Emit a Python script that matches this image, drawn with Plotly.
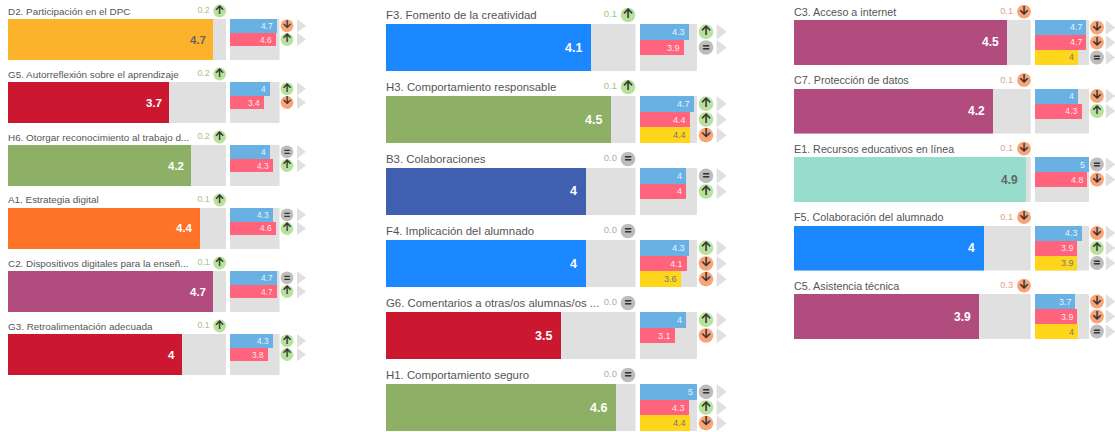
import plotly.graph_objects as go

W, H = 1115, 432

# ---------- data ----------
titles = [
    "D2. Participación en el DPC", "G5. Autorreflexión sobre el aprendizaje",
    "H6. Otorgar reconocimiento al trabajo d...", "A1. Estrategia digital",
    "C2. Dispositivos digitales para la enseñ...", "G3. Retroalimentación adecuada",
    "F3. Fomento de la creatividad", "H3. Comportamiento responsable",
    "B3. Colaboraciones", "F4. Implicación del alumnado",
    "G6. Comentarios a otras/os alumnas/os ...", "H1. Comportamiento seguro",
    "C3. Acceso a internet", "C7. Protección de datos",
    "E1. Recursos educativos en línea", "F5. Colaboración del alumnado",
    "C5. Asistencia técnica",
]
scores = [4.7, 3.7, 4.2, 4.4, 4.7, 4.0, 4.1, 4.5, 4.0, 4.0, 3.5, 4.6, 4.5, 4.2, 4.9, 4.0, 3.9]
deltas = ["0.2", "0.2", "0.2", "0.1", "0.1", "0.1", "0.1", "0.1", "0.0", "0.0", "0.0", "0.0",
          "0.1", "0.1", "0.1", "0.1", "0.3"]
delta_trends = ["up", "up", "up", "up", "up", "up", "up", "up", "eq", "eq", "eq", "eq",
                "down", "down", "down", "down", "down"]
bar_colors = ["#FDB22B", "#CB1830", "#8DB066", "#FF7328", "#B24C7E", "#CB1830",
              "#1B88FF", "#8DB066", "#405FB1", "#1B88FF", "#CB1830", "#8DB066",
              "#B24C7E", "#B24C7E", "#96DDCD", "#1B88FF", "#B24C7E"]
group_a = [4.7, 4.0, 4.0, 4.3, 4.7, 4.3, 4.3, 4.7, 4.0, 4.3, 4.0, 5.0, 4.7, 4.0, 5.0, 4.3, 3.7]
group_b = [4.6, 3.4, 4.3, 4.6, 4.7, 3.8, 3.9, 4.4, 4.0, 4.1, 3.1, 4.3, 4.7, 4.3, 4.8, 3.9, 3.9]
group_c = [None, None, None, None, None, None, None, 4.4, None, 3.6, None, 4.4, 4.0, None, None, 3.9, 4.0]
trend_a = ["down", "up", "eq", "eq", "eq", "up", "up", "up", "eq", "up", "up", "eq", "down", "down", "eq", "down", "down"]
trend_b = ["up", "down", "up", "up", "up", "up", "eq", "up", "up", "down", "down", "up", "down", "up", "down", "up", "down"]
trend_c = [None, None, None, None, None, None, None, "down", None, "down", None, "down", "eq", None, None, "eq", "eq"]

SCALE_MAX = 5
group_colors = ["#69B1E3", "#FF647C", "#FFD61C"]
TRACK = "#E0E0E0"
ICON = {"up": "#B7E29C", "down": "#F9A478", "eq": "#BDBDBD"}
GLYPH = {"up": "↑", "down": "↓", "eq": "="}
DELTA_COLOR = {"up": "#A3C486", "down": "#E2A27E", "eq": "#ABABAB"}
FONT = "Liberation Sans"

# ---------- layout of the three columns (pixels) ----------
columns = [
    dict(n=6, x0=8, x1=226, sx0=230, sx1=279.5, top=19, h=41, pitch=63, band=14,
         icon=287, tri_pitch=13, r=6.4, head=8, hicon=219.7, hdelta=10,
         tsize=9.9, dsize=8.8, vsize=11.5, ssize=8.3, vshift=-5),
    dict(n=6, x0=386, x1=635.5, sx0=640, sx1=697, top=24, h=47, pitch=72, band=15.67,
         icon=706, tri_pitch=14, r=7.3, head=9, hicon=628, hdelta=11,
         tsize=11.4, dsize=9.5, vsize=12.5, ssize=9.1, vshift=-7),
    dict(n=5, x0=793.5, x1=1030.7, sx0=1034.7, sx1=1089, top=20, h=45, pitch=68.5, band=15,
         icon=1097.7, tri_pitch=13.5, r=6.9, head=8.3, hicon=1024, hdelta=11,
         tsize=10.75, dsize=9.2, vsize=12, ssize=8.9, vshift=-6),
]

fig = go.Figure()
layout = {}
annotations = []
ax = 0


def new_axes(x0, x1, y0, y1, xrange, yrange):
    """Create one x/y pair at the given pixel box; returns trace refs."""
    global ax
    ax += 1
    xn = "x" if ax == 1 else f"x{ax}"
    yn = "y" if ax == 1 else f"y{ax}"
    common = dict(visible=False, fixedrange=True)
    layout["xaxis" if ax == 1 else f"xaxis{ax}"] = dict(
        domain=[max(x0 / W, 0), min(x1 / W, 1)], range=xrange, anchor=yn, **common)
    layout["yaxis" if ax == 1 else f"yaxis{ax}"] = dict(
        domain=[max(1 - y1 / H, 0), min(1 - y0 / H, 1)], range=yrange, anchor=xn, **common)
    return xn, yn


def icon_trace(xn, yn, xs, ys, trends, r):
    fig.add_trace(go.Scatter(
        x=xs, y=ys, xaxis=xn, yaxis=yn, mode="markers+text", cliponaxis=False,
        marker=dict(size=2 * r, color=[ICON[t] for t in trends], line=dict(width=0)),
        text=[f"<b>{GLYPH[t]}</b>" for t in trends], textposition="middle center",
        textfont=dict(family="Inter", size=r * 1.75, color="#333333"),
        hoverinfo="skip"))


i = 0
for col in columns:
    for row in range(col["n"]):
        top = col["top"] + row * col["pitch"]
        bottom = top + col["h"]

        # main bar
        xn, yn = new_axes(col["x0"], col["x1"], top, bottom, [0, SCALE_MAX], [-0.5, 0.5])
        fig.add_trace(go.Bar(x=[SCALE_MAX], y=[0], xaxis=xn, yaxis=yn, orientation="h", width=1,
                             marker=dict(color=TRACK, line=dict(width=0)), hoverinfo="skip"))
        fig.add_trace(go.Bar(x=[scores[i]], y=[0], xaxis=xn, yaxis=yn, orientation="h", width=1,
                             marker=dict(color=bar_colors[i], line=dict(width=0)), hoverinfo="skip"))
        light = bar_colors[i] in ("#FDB22B", "#96DDCD")
        annotations.append(dict(
            xref=xn, yref=yn, x=scores[i], y=0, xanchor="right", yanchor="middle",
            xshift=col["vshift"], showarrow=False,
            text=f"<b>{scores[i]:g}</b>",
            font=dict(family=FONT, size=col["vsize"], color="#666666" if light else "#FFFFFF")))

        # title, delta and heading icon
        head_y = top - col["head"]
        annotations.append(dict(
            xref=f"{xn} domain", yref=yn, x=0, y=0, xanchor="left", yanchor="middle",
            yshift=col["h"] / 2 + col["head"], showarrow=False, xshift=-2,
            text=titles[i], font=dict(family=FONT, size=col["tsize"], color="#555555")))
        hp = col["hdelta"]
        hx, hy = new_axes(col["hicon"] - 1.5 * hp, col["hicon"] + 0.5 * hp, head_y - 8, head_y + 8,
                          [-0.5, 1.5], [-0.5, 0.5])
        fig.add_trace(go.Scatter(
            x=[0], y=[0], xaxis=hx, yaxis=hy, mode="text", cliponaxis=False,
            text=[deltas[i]], textposition="middle left",
            textfont=dict(family=FONT, size=col["dsize"], color=DELTA_COLOR[delta_trends[i]]),
            hoverinfo="skip"))
        icon_trace(hx, hy, [1], [0], [delta_trends[i]], col["r"])

        # small group bars
        vals = [v for v in (group_a[i], group_b[i], group_c[i]) if v is not None]
        trends = [t for t in (trend_a[i], trend_b[i], trend_c[i]) if t is not None]
        bands = [0, 1, 2]
        sx, sy = new_axes(col["sx0"], col["sx1"], top, bottom, [0, SCALE_MAX], [2.5, -0.5])
        fig.add_trace(go.Bar(x=[SCALE_MAX] * 3, y=bands, xaxis=sx, yaxis=sy, orientation="h", width=1,
                             marker=dict(color=TRACK, line=dict(width=0)), hoverinfo="skip"))
        for b, v in enumerate(vals):
            fig.add_trace(go.Bar(x=[v], y=[b], xaxis=sx, yaxis=sy, orientation="h", width=1,
                                 marker=dict(color=group_colors[b], line=dict(width=0)), hoverinfo="skip"))
            annotations.append(dict(
                xref=sx, yref=sy, x=v, y=b, xanchor="right", yanchor="middle", xshift=-2,
                showarrow=False, text=f"{v:g}",
                font=dict(family=FONT, size=col["ssize"],
                          color="#777777" if b == 2 else "rgba(255,255,255,0.88)")))

        # trend icons and pale triangles
        tp = col["tri_pitch"]
        tx, ty = new_axes(col["icon"] - 0.5 * tp, col["icon"] + 1.5 * tp, top, bottom,
                          [-0.5, 1.5], [2.5, -0.5])
        n = len(vals)
        fig.add_trace(go.Scatter(
            x=[1] * n, y=bands[:n], xaxis=tx, yaxis=ty, mode="markers", cliponaxis=False,
            marker=dict(symbol="triangle-right", size=col["r"] * 1.85, color=TRACK, line=dict(width=0)),
            hoverinfo="skip"))
        icon_trace(tx, ty, [0] * n, bands[:n], trends, col["r"])
        i += 1

fig.update_layout(
    width=W, height=H, margin=dict(l=0, r=0, t=0, b=0), showlegend=False,
    barmode="overlay", bargap=0, paper_bgcolor="#FFFFFF", plot_bgcolor="#FFFFFF",
    annotations=annotations, **layout)

fig.write_html("out.html", config={"displayModeBar": False},
               post_script="document.body.style.margin='0';document.documentElement.style.overflow='hidden';")
